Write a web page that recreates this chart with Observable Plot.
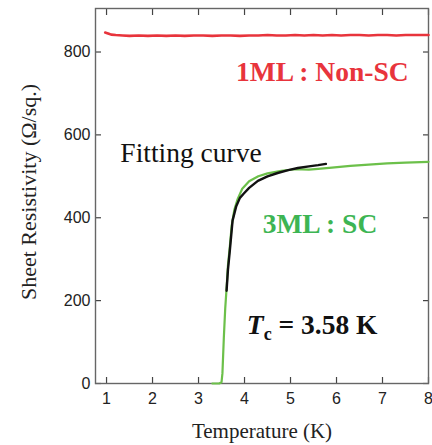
<!DOCTYPE html>
<html>
<head>
<meta charset="utf-8">
<script src="https://cdn.jsdelivr.net/npm/d3@7"></script>
<script src="https://cdn.jsdelivr.net/npm/@observablehq/plot@0.6"></script>
<style>
  html, body { margin: 0; padding: 0; background: #fff; }
</style>
</head>
<body>
<div id="chart"></div>
<script>
// 1ML (non-superconducting) sheet resistivity
const redT = [0.97,1.0,1.05,1.1,1.2,1.35,1.5,1.7,1.9,2.1,2.3,2.5,2.7,2.9,3.1,3.3,3.5,3.7,3.9,4.1,4.3,4.5,4.7,4.9,5.1,5.3,5.5,5.7,5.9,6.1,6.3,6.5,6.7,6.9,7.1,7.3,7.5,7.7,7.9,8.0];
const redR = [847,846,844,842,841,840,839,840,839,840,839,840,839,840,840,839,840,840,839,840,840,841,840,840,841,840,841,840,841,840,841,841,840,841,841,840,841,841,841,841];
// 3ML (superconducting) sheet resistivity
const greenT = [3.30,3.45,3.50,3.52,3.55,3.58,3.61,3.64,3.68,3.72,3.78,3.85,3.95,4.1,4.3,4.5,4.8,5.1,5.4,5.6,5.9,6.3,6.7,7.1,7.5,8.0];
const greenR = [0,0,3,25,110,180,230,285,330,380,420,445,470,488,500,507,513,517,516,518,521,525,528,531,533,535];
// Fitting curve
const fitT = [3.61,3.64,3.68,3.74,3.82,3.90,3.98,4.10,4.29,4.50,4.72,4.95,5.16,5.40,5.60,5.77];
const fitR = [224,275,320,393,428,448,458,472,489,500,508,515,520,524,527,530];
// Ticks
const xTicks = [1,2,3,4,5,6,7,8];
const yTicks = [0,200,400,600,800];

const red = redT.map((t,i) => ({T:t, R:redR[i]}));
const green = greenT.map((t,i) => ({T:t, R:greenR[i]}));
const fit = fitT.map((t,i) => ({T:t, R:fitR[i]}));

const serif = "'Liberation Serif', 'Times New Roman', serif";
const sans = "'Liberation Sans', Arial, sans-serif";
const tickColor = "#444";

const chart = Plot.plot({
  width: 432,
  height: 445,
  marginLeft: 95,
  marginRight: 4,
  marginTop: 8,
  marginBottom: 62,
  style: {fontFamily: sans, fontSize: "16px", color: "#222", background: "#fff"},
  x: {domain: [0.76, 8.0]},
  y: {domain: [0, 905]},
  marks: [
    // inward ticks on all four sides
    Plot.axisX(xTicks, {anchor: "bottom", tickSize: 6, dy: -6, tickFormat: () => "", label: null, stroke: tickColor, strokeWidth: 1.2}),
    Plot.axisX(xTicks, {anchor: "top", tickSize: 6, dy: 6, tickFormat: () => "", label: null, stroke: tickColor, strokeWidth: 1.2}),
    Plot.axisY(yTicks, {anchor: "left", tickSize: 6, dx: 6, tickFormat: () => "", label: null, stroke: tickColor, strokeWidth: 1.2}),
    Plot.axisY(yTicks, {anchor: "right", tickSize: 6, dx: -6, tickFormat: () => "", label: null, stroke: tickColor, strokeWidth: 1.2}),
    // tick labels
    Plot.axisX(xTicks, {anchor: "bottom", tickSize: 0, tickPadding: 9, label: null, fill: "#222"}),
    Plot.axisY(yTicks, {anchor: "left", tickSize: 0, tickPadding: 5, label: null, fill: "#222"}),
    Plot.frame({stroke: "#666", strokeWidth: 1.4}),
    // data
    Plot.line(red, {x: "T", y: "R", stroke: "#e8343c", strokeWidth: 2.6}),
    Plot.line(green, {x: "T", y: "R", stroke: "#6cc04a", strokeWidth: 2.2}),
    Plot.line(fit, {x: "T", y: "R", stroke: "#111", strokeWidth: 2.4}),
    // axis titles
    Plot.text(["Temperature (K)"], {frameAnchor: "bottom", dy: 48, text: d => d, fontFamily: serif, fontSize: 21, fill: "#222", lineAnchor: "middle", textAnchor: "middle"}),
    Plot.text(["Sheet Resistivity (Ω/sq.)"], {frameAnchor: "left", dx: -67, dy: -4, rotate: -90, text: d => d, fontFamily: serif, fontSize: 22, fill: "#222", lineAnchor: "middle", textAnchor: "middle"}),
    // annotations
    Plot.text(["1ML : Non-SC"], {x: 5.69, y: 752, text: d => d, fontFamily: serif, fontWeight: "bold", fontSize: 27.5, fill: "#e8343c", textAnchor: "middle"}),
    Plot.text(["Fitting curve"], {x: 1.3, y: 556, text: d => d, fontFamily: serif, fontSize: 27.5, fill: "#111", textAnchor: "start"}),
    Plot.text(["3ML : SC"], {x: 5.64, y: 385, text: d => d, fontFamily: serif, fontWeight: "bold", fontSize: 27.5, fill: "#3db553", textAnchor: "middle"}),
    Plot.text(["Tc = 3.58 K"], {x: 5.47, y: 140, text: d => d, fontFamily: serif, fontWeight: "bold", fontSize: 27.5, fill: "#111", textAnchor: "middle"})
  ]
});

// format the T_c label with italic T and subscript c
d3.select(chart).selectAll("text").filter(function() { return this.textContent === "Tc = 3.58 K"; }).each(function() {
  const el = d3.select(this);
  el.text(null);
  el.append("tspan").attr("font-style", "italic").text("T");
  el.append("tspan").attr("font-size", 18).attr("dy", 6).text("c");
  el.append("tspan").attr("dy", -6).text(" = 3.58 K");
});

document.getElementById("chart").appendChild(chart);
</script>
</body>
</html>
